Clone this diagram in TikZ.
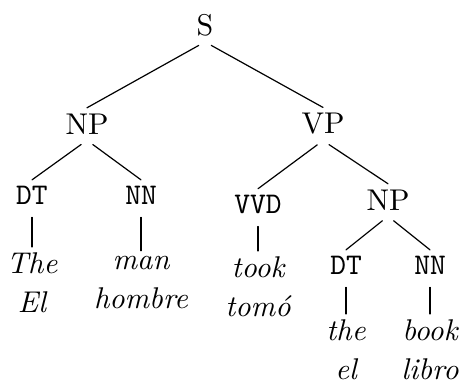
\documentclass[tikz,border=0pt]{standalone}
\usetikzlibrary{positioning}

\begin{document}
\begin{tikzpicture}[x=0.3333pt, y=-0.3333pt, line cap=round]
  \tikzset{cat/.style={inner sep=1.8pt},
           tag/.style={inner sep=1.8pt, font=\ttfamily},
           word/.style={inner sep=1.8pt, align=center, font=\itshape},
           branch/.style={shorten <=2.4pt}}
  \useasboundingbox (0,0) rectangle (460,383);
  % knopen
  \node[cat] (s) at (205,25) {S};
  \node[cat] (np) at (87,124) {NP};
  \node[cat] (vp) at (323,124) {VP};
  \node[tag] (dt) at (32,195) {DT};
  \node[tag] (nn) at (141,195) {NN};
  \node[tag] (vvd) at (258,204) {VVD};
  \node[cat] (np2) at (388,200) {NP};
  \node[tag] (dt2) at (346,265) {DT};
  \node[tag] (nn2) at (430,265) {NN};
  % bladeren
  \node[word] (the) at (32,283) {The\\[1pt]El};
  \node[word] (man) at (141,283) {man\\[1pt]hombre};
  \node[word] (took) at (258,287) {took\\[1pt]tom\'o};
  \node[word] (the2) at (346,350) {the\\[1pt]el};
  \node[word] (book) at (430,350) {book\\[1pt]libro};
  % takken
  \draw[branch] (s.south) -- (np.north);
  \draw[branch] (s.south) -- (vp.north);
  \draw[branch] (np.south) -- (dt.north);
  \draw[branch] (np.south) -- (nn.north);
  \draw[branch] (vp.south) -- (vvd.north);
  \draw[branch] (vp.south) -- (np2.north);
  \draw[branch] (np2.south) -- (dt2.north);
  \draw[branch] (np2.south) -- (nn2.north);
  \draw[branch] (dt.south) -- (the.north);
  \draw[branch] (nn.south) -- (man.north);
  \draw[branch] (vvd.south) -- (took.north);
  \draw[branch] (dt2.south) -- (the2.north);
  \draw[branch] (nn2.south) -- (book.north);
\end{tikzpicture}
\end{document}
